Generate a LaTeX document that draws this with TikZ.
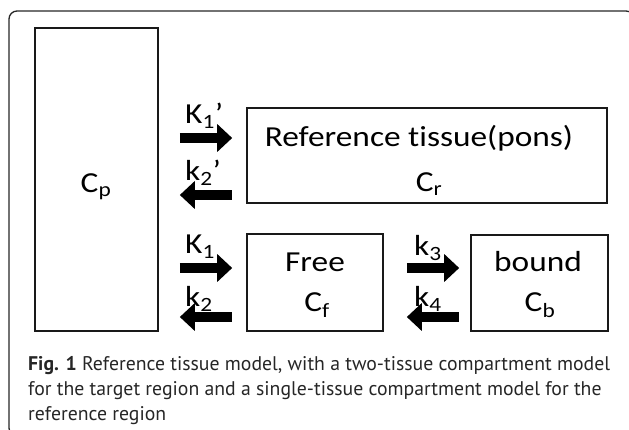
\documentclass[tikz,border=0pt]{standalone}
\usepackage{fontspec}
\setmainfont{Carlito}[FakeStretch=1.15, Ligatures=NoCommon]
\newfontfamily\capfont{PT Sans}
\usetikzlibrary{arrows.meta}

\begin{document}
\begin{tikzpicture}[x=1pt,y=-1pt,
  comp/.style={draw=black!90, line width=1.6pt, inner sep=0pt},
  lbl/.style={font=\fontsize{29}{32}\selectfont, inner sep=0pt, anchor=base},
  rate/.style={font=\fontsize{29}{32}\selectfont, inner sep=0pt, anchor=base west},
  flow/.style={line width=9.5pt, -{Triangle[length=15pt,width=27pt]}},
  flowback/.style={line width=9.5pt, {Triangle[length=15pt,width=27pt]}-}]
\useasboundingbox (0,0) rectangle (629,430);

% outer frame
\begin{scope}
  \clip (0,0) rectangle (629,430);
  \draw[line width=1.3pt, black!85, rounded corners=8pt] (9,11) rectangle (634,436);
\end{scope}

% compartments
\node[comp, minimum width=123pt, minimum height=303pt] (cp) at (96.5,179.5) {};
\node[comp, minimum width=360pt, minimum height=95pt]  (ref) at (427,155.5) {};
\node[comp, minimum width=136pt, minimum height=97pt]  (free) at (315,282.5) {};
\node[comp, minimum width=137pt, minimum height=96pt]  (bound) at (539.5,283) {};

% compartment labels
\node[lbl] (cptxt) at (96,193) {C\textsubscript{p}};
\node[lbl] (reftxt) at (419,147) {Reference tissue(pons)};
\node[lbl] (crtxt) at (429,192) {C\textsubscript{r}};
\node[lbl] (freetxt) at (315,272) {Free};
\node[lbl] (cftxt) at (317,312) {C\textsubscript{f}};
\node[lbl] (boundtxt) at (538,272) {bound};
\node[lbl] (cbtxt) at (540,312) {C\textsubscript{b}};

% exchange arrows
\coordinate (y1) at (0,138);
\coordinate (y2) at (0,195);
\coordinate (y3) at (0,268);
\coordinate (y4) at (0,317);
\draw[flow, shorten <=21pt, shorten >=14pt] (cp.east |- y1) -- (ref.west |- y1);
\draw[flowback, shorten <=21pt, shorten >=14pt] (cp.east |- y2) -- (ref.west |- y2);
\draw[flow, shorten <=21pt, shorten >=14pt] (cp.east |- y3) -- (free.west |- y3);
\draw[flowback, shorten <=21pt, shorten >=14pt] (cp.east |- y4) -- (free.west |- y4);
\draw[flow, shorten <=23pt, shorten >=11pt] (free.east |- y3) -- (bound.west |- y3);
\draw[flowback, shorten <=23pt, shorten >=11pt] (free.east |- y4) -- (bound.west |- y4);

% rate constants
\node[rate] (k1p) at (185,124) {K\textsubscript{1}\textquoteright};
\node[rate] (k2p) at (185,181) {k\textsubscript{2}\textquoteright};
\node[rate] (k1) at (185,254) {K\textsubscript{1}};
\node[rate] (k2) at (185,307) {k\textsubscript{2}};
\node[rate] (k3) at (414,256) {k\textsubscript{3}};
\node[rate] (k4) at (414,307) {k\textsubscript{4}};

% caption
\node[font=\capfont\fontsize{19.75}{25}\selectfont, text=black!85, anchor=north west,
      align=left, inner sep=0pt] (cap) at (28,356)
  {\textbf{Fig. 1} Reference tissue model, with a two-tissue compartment model\\
   for the target region and a single-tissue compartment model for the\\
   reference region};
\end{tikzpicture}
\end{document}
